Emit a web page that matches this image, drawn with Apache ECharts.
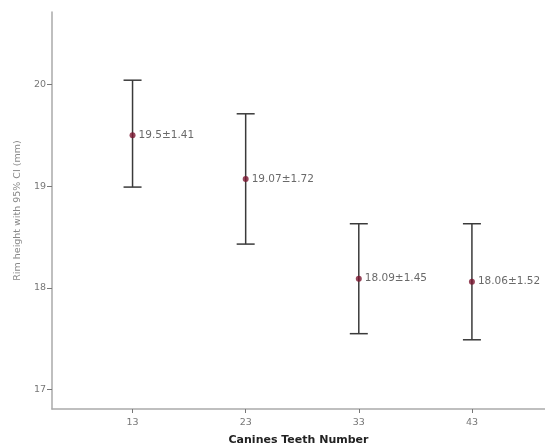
<!DOCTYPE html>
<html>
<head>
<meta charset="UTF-8">
<title>Rim height</title>
<style>
  html, body { margin: 0; padding: 0; background: #fff; }
  #main { width: 545px; height: 447px; }
</style>
</head>
<body>
<div id="main"></div>
<script src="https://cdn.jsdelivr.net/npm/echarts@6/dist/echarts.min.js"></script>
<script>
// teeth numbers (x categories)
var teeth = ['13', '23', '33', '43'];
// mean values and 95% CI bounds
var means = [19.5, 19.07, 18.09, 18.06];
var ciLow = [18.99, 18.43, 17.55, 17.49];
var ciHigh = [20.04, 19.71, 18.63, 18.63];
// text shown next to each mean
var pointLabels = ['19.5±1.41', '19.07±1.72', '18.09±1.45', '18.06±1.52'];
var yTicks = [17, 18, 19, 20];

var xNums = teeth.map(function (t) { return Number(t); });

var barData = [], pointData = [];
for (var i = 0; i < teeth.length; i++) {
    barData.push([xNums[i], ciLow[i], ciHigh[i]]);
    pointData.push({ value: [xNums[i], means[i]], label: { formatter: pointLabels[i] } });
}

var chart = echarts.init(document.getElementById('main'));
var option = {
    animation: false,
    grid: { left: 52, right: 0, top: 12, bottom: 38, outerBoundsMode: 'none', containLabel: false },
    xAxis: {
        type: 'value',
        min: 5.88,
        max: 49.46,
        name: 'Canines Teeth Number',
        nameLocation: 'middle',
        nameGap: 26,
        nameTextStyle: { fontFamily: 'DejaVu Sans', fontWeight: 'bold', fontSize: 11, color: '#222' },
        splitLine: { show: false },
        axisLine: { lineStyle: { color: '#aaa', width: 1.5 } },
        axisTick: { customValues: xNums, length: 4, lineStyle: { color: '#777' } },
        axisLabel: { customValues: xNums, fontFamily: 'DejaVu Sans', fontSize: 9.5, color: '#777', margin: 9 }
    },
    yAxis: {
        type: 'value',
        min: 16.81,
        max: 20.71,
        name: 'Rim height with 95% CI (mm)',
        nameLocation: 'middle',
        nameGap: 28,
        nameRotate: 90,
        nameTextStyle: { fontFamily: 'DejaVu Sans', fontSize: 9.5, color: '#888' },
        splitLine: { show: false },
        axisLine: { show: true, lineStyle: { color: '#aaa', width: 1.5 } },
        axisTick: { show: true, customValues: yTicks, length: 5, lineStyle: { color: '#777' } },
        axisLabel: { customValues: yTicks, fontFamily: 'DejaVu Sans', fontSize: 9.5, color: '#777', margin: 6 }
    },
    series: [
        {
            type: 'custom',
            data: barData,
            renderItem: function (params, api) {
                var x = api.value(0);
                var lo = api.coord([x, api.value(1)]);
                var hi = api.coord([x, api.value(2)]);
                var half = 9;
                var style = { stroke: '#3a3a3a', lineWidth: 1.5 };
                return {
                    type: 'group',
                    children: [
                        { type: 'line', shape: { x1: lo[0], y1: lo[1], x2: hi[0], y2: hi[1] }, style: style },
                        { type: 'line', shape: { x1: hi[0] - half, y1: hi[1], x2: hi[0] + half, y2: hi[1] }, style: style },
                        { type: 'line', shape: { x1: lo[0] - half, y1: lo[1], x2: lo[0] + half, y2: lo[1] }, style: style }
                    ]
                };
            },
            z: 2
        },
        {
            type: 'scatter',
            data: pointData,
            symbolSize: 6,
            itemStyle: { color: '#7a1530' },
            label: {
                show: true,
                position: 'right',
                distance: 3,
                fontFamily: 'DejaVu Sans',
                fontSize: 10.5,
                color: '#444'
            },
            z: 3
        }
    ]
};
chart.setOption(option);
</script>
</body>
</html>
